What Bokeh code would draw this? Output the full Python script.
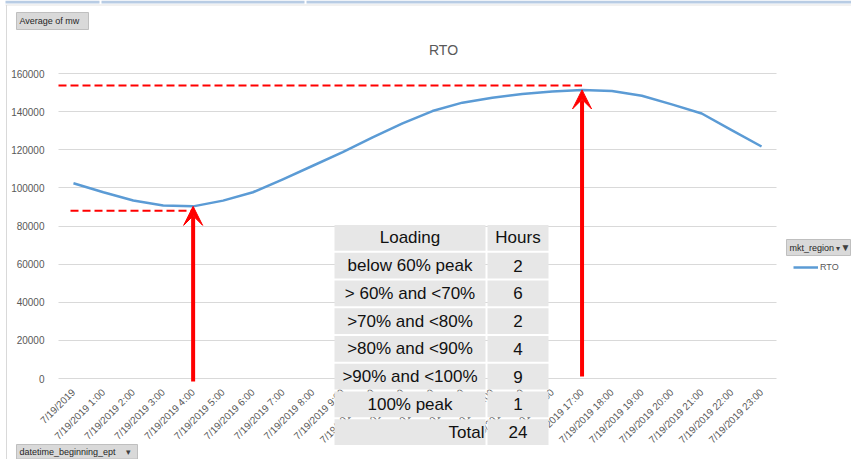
import math
from bokeh.plotting import figure
from bokeh.models import (Range1d, LinearAxis, FixedTicker, Grid, Arrow, VeeHead,
                          Legend, LegendItem, BasicTickFormatter, Label)
from bokeh.core.properties import value
from bokeh.embed import file_html
from bokeh.resources import INLINE

# ---------------- data ----------------
hour_labels = ["7/19/2019"] + ["7/19/2019 %d:00" % h for h in range(1, 24)]
mw = [102400, 97700, 93400, 90800, 90300, 93300, 97700, 104500, 111600, 118700,
      126500, 133800, 140300, 144700, 147300, 149200, 150600, 151400, 150800, 148300,
      143800, 139000, 130300, 121700]
y_ticks = [0, 20000, 40000, 60000, 80000, 100000, 120000, 140000, 160000]
peak_guide = 153700
low_guide = 88000
loading_labels = ["below 60% peak", "> 60% and <70%", ">70% and <80%",
                  ">80% and <90%", ">90% and <100%", "100% peak"]
loading_hours = [2, 6, 2, 4, 9, 1]

# ---------------- layout helpers (reference pixel -> data) ----------------
W, H = 851, 459
STEP = 718 / 24.0
X0 = 58 + STEP / 2
def X(px):
    return (px - X0) / STEP
YPP = 160000 / 305.0
def Y(py):
    return (378 - py) * YPP

FONT = "Liberation Sans"
GREY = "#595959"

p = figure(width=W, height=H, output_backend="svg", toolbar_location=None,
           x_range=Range1d(X(0), X(W)), y_range=Range1d(Y(H), Y(0)),
           x_axis_type=None, y_axis_type=None, min_border=0,
           outline_line_color=None, background_fill_color="white")
p.min_border_left = p.min_border_right = p.min_border_top = p.min_border_bottom = 0

# sheet decorations: header band and chart border
p.quad(left=[X(5), X(101), X(306)], right=[X(99), X(304), X(W)],
       top=[Y(0)] * 3, bottom=[Y(3)] * 3, fill_color="#b8cce4", line_color=None)
p.line([X(5), X(W)], [Y(4.5), Y(4.5)], line_color="#e3e3e3", line_width=1)
p.line([X(6), X(6)], [Y(4.5), Y(H)], line_color="#d9d9d9", line_width=1)

# grid
grid = Grid(dimension=1, ticker=FixedTicker(ticks=y_ticks), grid_line_color="#d9d9d9",
            grid_line_width=1, cross_bounds=(X(58), X(776)))
p.add_layout(grid)

# y axis
yaxis = LinearAxis(fixed_location=X(58), ticker=FixedTicker(ticks=y_ticks),
                   formatter=BasicTickFormatter(use_scientific=False),
                   axis_line_color=None, major_tick_line_color=None, minor_tick_line_color=None,
                   major_label_text_font_size="10px", major_label_text_color=GREY,
                   major_label_text_font=FONT, major_label_standoff=8)
p.add_layout(yaxis, "left")

# x axis
idx = list(range(len(hour_labels)))
xaxis = LinearAxis(fixed_location=0, ticker=FixedTicker(ticks=idx),
                   major_label_overrides={i: s for i, s in enumerate(hour_labels)},
                   major_label_orientation=math.pi / 4,
                   axis_line_color=None, major_tick_line_color=None, minor_tick_line_color=None,
                   major_label_text_font_size="10px", major_label_text_color=GREY,
                   major_label_text_font=FONT, major_label_standoff=6)
p.add_layout(xaxis, "below")

# series
r_line = p.line(idx, mw, line_color="#5B9BD5", line_width=2.5, line_join="round")

# guides and arrows
imax = mw.index(max(mw))
imin = mw.index(min(mw))
p.line([X(58), imax], [peak_guide, peak_guide], line_color="red", line_width=2, line_dash="8 4")
p.line([X(70), imin], [low_guide, low_guide], line_color="red", line_width=2, line_dash="8 4")
for i, ystart in ((imin, Y(381)), (imax, Y(376))):
    p.add_layout(Arrow(end=VeeHead(size=19, fill_color="red", line_color="red"),
                       x_start=i, y_start=ystart, x_end=i, y_end=mw[i],
                       line_color="red", line_width=4))

# title
p.add_layout(Label(x=X(443), y=Y(49), text="RTO", text_align="center", text_baseline="middle",
                   text_font=FONT, text_font_size="14px", text_color=GREY))

# table
rows = [("Loading", "Hours")] + list(zip(loading_labels, [str(v) for v in loading_hours])) \
       + [("Total", str(sum(loading_hours)))]
RH = 27.75
c1 = (334, 485)
c2 = (487, 548)
lefts, rights, tops, bottoms = [], [], [], []
tx, ty, tt, ta = [], [], [], []
for r, (a, b) in enumerate(rows):
    top = 224.5 + RH * r
    bot = top + RH - 2
    for (l, rr) in (c1, c2):
        lefts.append(X(l)); rights.append(X(rr)); tops.append(Y(top)); bottoms.append(Y(bot))
    mid = Y((top + bot) / 2)
    if a == "Total":
        tx.append(X(484)); ta.append("right")
    else:
        tx.append(X((c1[0] + c1[1]) / 2)); ta.append("center")
    ty.append(mid); tt.append(a)
    tx.append(X((c2[0] + c2[1]) / 2)); ty.append(mid); tt.append(b); ta.append("center")
p.quad(left=lefts, right=rights, top=tops, bottom=bottoms, fill_color="#e7e7e7",
       line_color=None, level="overlay")
p.text(x=tx, y=ty, text=tt, text_align=ta, text_baseline="middle",
       text_font=value(FONT), text_font_size="17px", text_color="#111111", level="overlay")

# pivot field buttons
def button(x0, x1, y0, y1, label):
    p.quad(left=[X(x0)], right=[X(x1)], top=[Y(y0)], bottom=[Y(y1)],
           fill_color="#d9d9d9", line_color="#bfbfbf", line_width=1, level="overlay")
    p.text(x=[X(x0 + 3)], y=[Y((y0 + y1) / 2)], text=[label], text_baseline="middle",
           text_font=value(FONT), text_font_size="9px", text_color="#262626", level="overlay")

def glyph(px, py, ch, size):
    p.text(x=[X(px)], y=[Y(py)], text=[ch], text_align="center", text_baseline="middle",
           text_font=value(FONT), text_font_size=size, text_color="#404040", level="overlay")

button(16, 88, 12, 29, "Average of mw")
button(16, 137, 444, 458.5, "datetime_beginning_ept")
glyph(128, 451, "\u25be", "9px")
button(786, 850, 239, 255, "mkt_region")
glyph(837, 248, "\u25be", "8px")
glyph(845, 247, "\u25bc", "10px")

# legend
legend = Legend(items=[LegendItem(label="RTO", renderers=[r_line])],
                location=(793, H - 272), background_fill_alpha=0, border_line_color=None,
                padding=0, margin=0, spacing=0, glyph_width=25, glyph_height=10,
                label_height=10, label_standoff=2, label_text_font_size="9px",
                label_text_color=GREY, label_text_font=FONT)
p.add_layout(legend)

open("out.html", "w").write(file_html(p, INLINE))
